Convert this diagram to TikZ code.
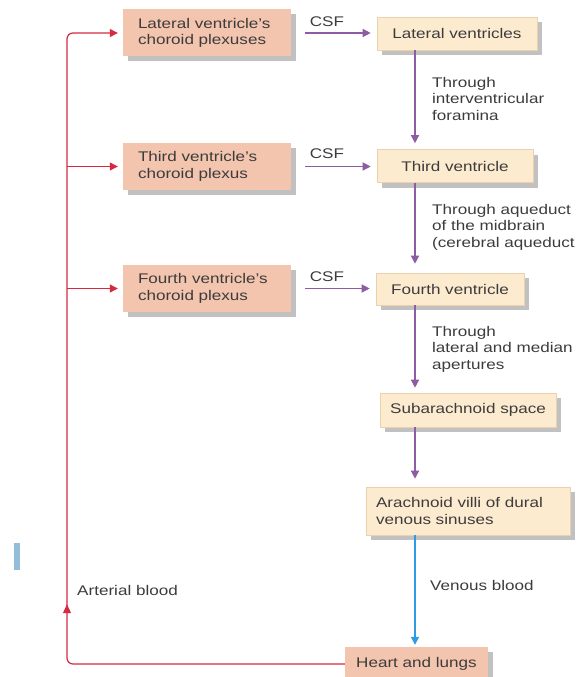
\documentclass[tikz,border=0pt]{standalone}
\usepackage{fontspec}
\setmainfont[FakeStretch=1.22]{Liberation Sans}
\usetikzlibrary{arrows.meta,shadows,decorations.markings}
\definecolor{salmon}{HTML}{F3C4AE}
\definecolor{cream}{HTML}{FDEBD0}
\definecolor{creamedge}{HTML}{EBD2AE}
\definecolor{purp}{HTML}{8E5CA3}
\definecolor{redc}{HTML}{D62A40}
\definecolor{bluec}{HTML}{2F9BE3}
\definecolor{txt}{HTML}{3C3C3C}
\definecolor{barc}{HTML}{93BDD8}
\begin{document}
\begin{tikzpicture}[x=1pt,y=-1pt,
  font=\fontsize{14}{16.5}\selectfont, text=txt,
  boxshadow/.style={drop shadow={shadow xshift=5pt,shadow yshift=-5pt,fill=black!40,opacity=0.6}},
  pinkbox/.style={fill=salmon, draw=none, boxshadow, align=left, text width=138pt,
    inner xsep=15pt, inner ysep=0pt, minimum height=47pt},
  creambox/.style={fill=cream, draw=creamedge, line width=0.6pt, boxshadow, align=center,
    inner sep=0pt},
  tipstyle/.style={-{Triangle[width=8pt,length=8pt]}},
  purparrow/.style={purp, line width=1.3pt, tipstyle},
  redline/.style={redc, line width=1.2pt},
  bluearrow/.style={bluec, line width=1.5pt, tipstyle},
  lbl/.style={align=left, inner sep=0pt, anchor=north west},
  csflbl/.style={pos=0, anchor=south west, inner sep=0pt, xshift=18pt, text=txt}
]
\useasboundingbox (0,0) rectangle (576,677);
\fill[white] (0,0) rectangle (576,677);

% left (choroid plexus) boxes
\node[pinkbox] (lcp) at (207,33) {Lateral ventricle's\\choroid plexuses};
\node[pinkbox] (tcp) at (207,166.5) {Third ventricle's\\choroid plexus};
\node[pinkbox] (fcp) at (207,288.5) {Fourth ventricle's\\choroid plexus};

% right column boxes
\node[creambox, minimum width=160pt, minimum height=33pt] (lv) at (457,33.5) {Lateral ventricles};
\node[creambox, minimum width=156pt, minimum height=33pt] (tv) at (455,166) {Third ventricle};
\node[creambox, minimum width=148pt, minimum height=32pt] (fv) at (450,289) {Fourth ventricle};
\node[creambox, minimum width=176pt, minimum height=34pt] (sas) at (468,410) {Subarachnoid space};
\node[creambox, minimum width=204pt, minimum height=48pt, align=left, text width=184pt, inner xsep=10pt] (avs) at (468,511) {Arachnoid villi of dural\\venous sinuses};
\node[fill=salmon, boxshadow, minimum width=143pt, minimum height=34pt, inner sep=0pt] (hl) at (416.5,664) {Heart and lungs};

% CSF arrows
\draw[purparrow, shorten <=14pt, shorten >=6pt] (lcp.east) -- (lcp.east -| lv.west)
  node[csflbl, yshift=6pt] (csf1) {CSF};
\draw[purparrow, shorten <=14pt, shorten >=6pt] (tcp.east) -- (tcp.east -| tv.west)
  node[csflbl, yshift=7pt] (csf2) {CSF};
\draw[purparrow, shorten <=14pt, shorten >=6pt] (fcp.east) -- (fcp.east -| fv.west)
  node[csflbl, yshift=6pt] (csf3) {CSF};

% vertical flow
\coordinate (ax) at (415,0);
\draw[purparrow, shorten >=6pt] (lv.south -| ax) -- (tv.north -| ax);
\draw[purparrow, shorten >=9pt] (tv.south -| ax) -- (fv.north -| ax);
\draw[purparrow, shorten >=5pt] (fv.south -| ax) -- (sas.north -| ax);
\draw[purparrow, shorten >=8pt] (sas.south -| ax) -- (avs.north -| ax);
\draw[bluearrow, shorten >=2pt] (avs.south -| ax) -- (hl.north -| ax);

\node[lbl] (l1) at (432,77) {Through\\interventricular\\foramina};
\node[lbl] (l2) at (432,204) {Through aqueduct\\of the midbrain\\(cerebral aqueduct};
\node[lbl] (l3) at (432,326) {Through\\lateral and median\\apertures};
\node[anchor=base west, inner sep=0pt] (vb) at (430,590) {Venous blood};
\node[anchor=base west, inner sep=0pt] (ab) at (77,595) {Arterial blood};

% arterial return
\coordinate (rx) at (67,0);
\draw[redline, tipstyle, shorten >=5pt, rounded corners=6pt,
  postaction={decorate}, decoration={markings,
    mark=at position 335pt with {\arrow{Triangle[width=8pt,length=9pt]}}}]
  (hl.west) -| (lcp.west -| rx) -- (lcp.west);
\draw[redline, tipstyle, shorten >=5pt] (tcp.west -| rx) -- (tcp.west);
\draw[redline, tipstyle, shorten >=5pt] (fcp.west -| rx) -- (fcp.west);

% stray light-blue mark at left margin
\fill[barc] (14,543) rectangle (20,570);
\end{tikzpicture}
\end{document}
